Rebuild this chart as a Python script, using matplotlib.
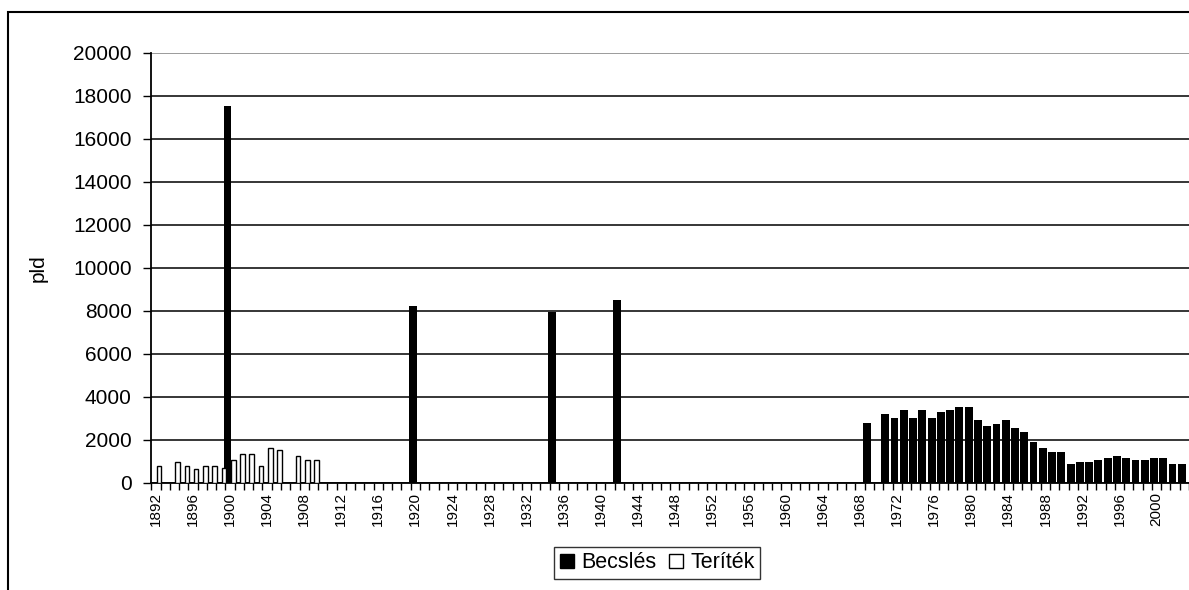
import matplotlib

matplotlib.use("Agg")
import matplotlib.pyplot as plt
from matplotlib.patches import Rectangle
from matplotlib.lines import Line2D
import numpy as np

first_year = 1892
last_year = 2003
label_years = list(range(1892, 2001, 4))

terites_years = [1892, 1894, 1895, 1896, 1897, 1898, 1899, 1900, 1901,
                 1902, 1903, 1904, 1905, 1907, 1908, 1909]
terites_values = [780, 950, 780, 620, 780, 780, 680, 1050, 1330,
                  1330, 780, 1600, 1520, 1240, 1050, 1050]

becsles_years = [1900, 1920, 1935, 1942, 1969,
                 1971, 1972, 1973, 1974, 1975, 1976, 1977, 1978, 1979, 1980,
                 1981, 1982, 1983, 1984, 1985, 1986, 1987, 1988, 1989, 1990,
                 1991, 1992, 1993, 1994, 1995, 1996, 1997, 1998, 1999, 2000,
                 2001, 2002, 2003]
becsles_values = [17500, 8200, 7950, 8500, 2800,
                  3200, 3000, 3400, 3000, 3400, 3000, 3300, 3400, 3500, 3500,
                  2900, 2650, 2750, 2900, 2550, 2350, 1900, 1600, 1450, 1450,
                  870, 960, 960, 1060, 1150, 1250, 1150, 1060, 1060, 1150,
                  1150, 880, 880]


def main() -> None:
    plt.rcParams["font.family"] = ["Liberation Sans", "DejaVu Sans"]

    W, H = 1189, 590
    fig = plt.figure(figsize=(W / 100, H / 100), dpi=100)
    left_px, right_px, top_px, bottom_px = 151.3, 1189, 52.7, 482.7
    ax = fig.add_axes([left_px / W, 1 - bottom_px / H,
                       (right_px - left_px) / W, (bottom_px - top_px) / H])

    # Becslés: wide black bars shifted left, Teríték: narrow white bars right
    ax.bar(np.array(becsles_years) - 0.28, becsles_values, width=0.85,
           color="black", edgecolor="black", linewidth=0, zorder=3)
    ax.bar(np.array(terites_years) + 0.34, terites_values, width=0.5,
           color="white", edgecolor="black", linewidth=1.0, zorder=4)

    ax.set_xlim(first_year - 0.5, 2002.7)
    ax.set_ylim(0, 20000)

    ax.set_yticks(np.arange(0, 20001, 2000))
    ax.tick_params(axis="y", direction="out", length=6, width=1.0,
                   pad=8, labelsize=15, color="black")
    ax.yaxis.grid(True, color="black", linewidth=1.1, zorder=1)
    ax.get_ygridlines()[-1].set_color("#808080")
    ax.set_axisbelow(True)

    # ticks between categories, labels every 4 years
    ax.set_xticks(np.arange(first_year - 0.5, last_year + 1, 1.0), minor=True)
    ax.set_xticks(label_years)
    ax.set_xticklabels([str(y) for y in label_years], rotation=90,
                       fontsize=11)
    ax.tick_params(axis="x", which="major", length=0, pad=7)
    ax.tick_params(axis="x", which="minor", direction="out", length=5,
                   width=1.0)

    ax.set_ylabel("pld", fontsize=15)
    ax.yaxis.set_label_coords(-0.0995, 0.5)

    for side in ["top", "right"]:
        ax.spines[side].set_visible(False)
    ax.spines["left"].set_linewidth(1.3)
    ax.spines["bottom"].set_linewidth(1.3)

    # outer chart border (cropped at right and bottom)
    fig.patches.append(Rectangle((8.3 / W, -0.1), 1.2, 1.1 - 12.3 / H,
                                 transform=fig.transFigure, fill=False,
                                 edgecolor="black", linewidth=1.5,
                                 clip_on=False))

    handles = [
        Line2D([], [], marker="s", linestyle="none", markersize=10,
               markerfacecolor="black", markeredgecolor="black"),
        Line2D([], [], marker="s", linestyle="none", markersize=10,
               markerfacecolor="white", markeredgecolor="black",
               markeredgewidth=1.0),
    ]
    leg = fig.legend(handles, ["Becslés", "Teríték"], ncol=2, loc="center",
                     bbox_to_anchor=(657 / W, 1 - 563 / H), fontsize=15.5,
                     frameon=True, fancybox=False, handlelength=0.7,
                     handletextpad=0.3, columnspacing=0.6, borderpad=0.25)
    leg.get_frame().set_edgecolor("black")
    leg.get_frame().set_linewidth(1.0)

    fig.savefig("out.png", dpi=100)
    plt.close(fig)


if __name__ == "__main__":
    main()
